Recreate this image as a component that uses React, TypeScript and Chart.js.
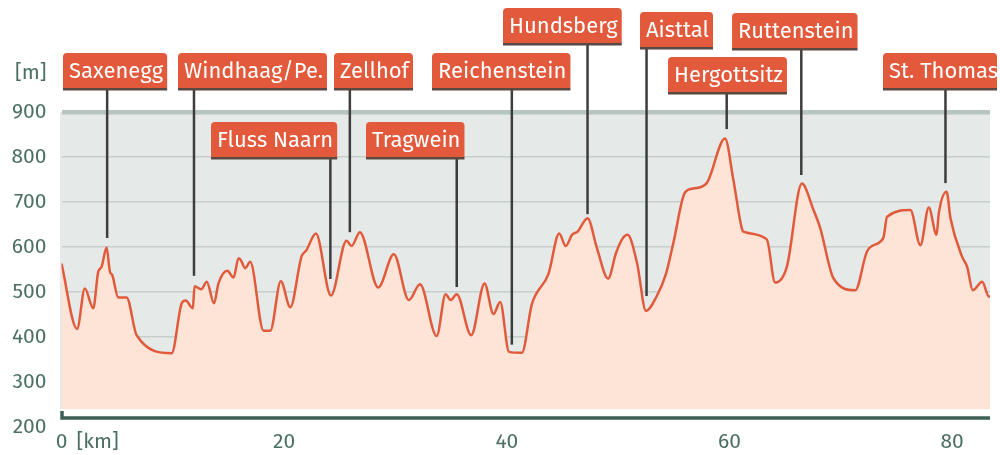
import React, { useEffect, useRef } from "react";
import { Chart, registerables } from "chart.js";

Chart.register(...registerables);

// ---- data ----
const kmValues = [
  0, 1.4, 2.1, 2.85, 3.3, 3.6, 4.05, 4.35, 4.55, 5.1, 5.85, 6.75, 9.9, 10.8, 11.15, 11.8, 11.95,
  12.55, 13.05, 13.7, 14.1, 14.9, 15.45, 15.9, 16.1, 16.5, 16.95, 18.15, 18.75, 19.7, 20.55,
  21.55, 22.0, 22.85, 24.2, 25.6, 26.05, 26.8, 28.45, 29.85, 31.2, 32.2, 33.7, 34.5, 34.95,
  35.5, 36.8, 38.0, 38.8, 39.4, 40.2, 41.35, 42.25, 43.75, 44.7, 45.3, 45.85, 46.35, 47.25,
  48.1, 49.1, 49.8, 50.35, 50.85, 51.7, 52.5, 53.45, 54.3, 54.95, 56.0, 56.75, 57.95, 59.6,
  60.35, 61.1, 61.25, 63.35, 64.1, 65.15, 66.5, 67.55, 68.15, 69.35, 71.3, 72.35, 73.55,
  73.85, 74.15, 76.25, 77.15, 77.9, 78.6, 78.8, 79.5, 79.85, 80.9, 81.35, 81.85, 82.7, 83.3, 83.4,
];
const elevations = [
  563, 418, 508, 464, 545, 556, 599, 545, 538, 488, 488, 404, 364, 475, 481, 464, 513,
  506, 523, 475, 519, 547, 532, 575, 571, 553, 567, 414, 414, 524, 466,
  578, 593, 630, 492, 614, 602, 633, 510, 584, 482, 517, 402, 495, 482,
  495, 404, 519, 451, 478, 367, 365, 473, 541, 630, 602, 627, 634, 664,
  597, 530, 586, 617, 627, 564, 458, 490, 541, 608, 721, 730, 742, 841,
  749, 642, 634, 617, 521, 556, 741, 682, 642, 530, 504, 590, 612,
  623, 667, 682, 604, 688, 627, 675, 723, 664, 578, 556, 504, 523, 490, 490,
];
const xTickValues = [0, 20, 40, 60, 80];
const yTickValues = [200, 300, 400, 500, 600, 700, 800, 900];

const placeNames = [
  "Saxenegg", "Windhaag/Pe.", "Fluss Naarn", "Zellhof", "Tragwein", "Reichenstein",
  "Hundsberg", "Aisttal", "Hergottsitz", "Ruttenstein", "St. Thomas",
];
const placeKm = [4.1, 11.9, 24.15, 25.9, 35.5, 40.45, 47.25, 52.55, 59.75, 66.45, 79.4];
const placeTipElev = [620, 536, 529, 633, 511, 383, 673, 491, 862, 760, 742];

// ---- layout (label box positions, px) ----
const boxLeft = [63, 178, 211, 334, 366, 432, 503, 640, 668, 732, 883];
const boxTop = [53, 53, 122, 53, 122, 53, 8, 12, 57, 13, 53];

const FONT = '"Fira Sans", "Open Sans", sans-serif';
const TICK_COLOR = "#4b6f65";

export default function App() {
  const ref = useRef<HTMLCanvasElement | null>(null);

  useEffect(() => {
    const canvas = ref.current;
    if (!canvas) return;

    const decor = {
      id: "decor",
      beforeDraw(chart: any) {
        const { ctx, chartArea, scales } = chart;
        const y = scales.y;
        ctx.save();
        ctx.fillStyle = "#e5eae9";
        const top = y.getPixelForValue(900);
        const bot = y.getPixelForValue(240);
        ctx.fillRect(chartArea.left - 1.5, top, chartArea.right - chartArea.left + 1.5, bot - top);
        ctx.restore();
      },
      afterDraw(chart: any) {
        const { ctx, chartArea, scales } = chart;
        const x = scales.x;
        const y = scales.y;
        ctx.save();
        // bottom axis line
        const ay = y.getPixelForValue(220);
        ctx.strokeStyle = "#3e5f56";
        ctx.lineWidth = 3.5;
        ctx.beginPath();
        ctx.moveTo(x.getPixelForValue(0) + 0.5, ay - 7);
        ctx.lineTo(x.getPixelForValue(0) + 0.5, ay);
        ctx.lineTo(chartArea.right, ay);
        ctx.stroke();

        // unit labels
        ctx.fillStyle = TICK_COLOR;
        ctx.font = `21px ${FONT}`;
        ctx.textAlign = "right";
        ctx.textBaseline = "middle";
        ctx.fillText("[m]", chartArea.left - 15, 73);
        ctx.textAlign = "left";
        ctx.fillText("[km]", x.getPixelForValue(0) + 15, 442);

        // place labels
        ctx.font = `22px ${FONT}`;
        placeNames.forEach((name, i) => {
          const px = x.getPixelForValue(placeKm[i]);
          const tipY = y.getPixelForValue(placeTipElev[i]);
          const left = boxLeft[i];
          const top = boxTop[i];
          const w = Math.min(ctx.measureText(name).width + 10, 997 - left);
          const h = 35;
          // pointer line
          ctx.strokeStyle = "#3d3d3d";
          ctx.lineWidth = 2.5;
          ctx.beginPath();
          ctx.moveTo(px, top + h + 2);
          ctx.lineTo(px, tipY);
          ctx.stroke();
          // box
          ctx.fillStyle = "#e3593b";
          ctx.beginPath();
          (ctx as any).roundRect(left, top, w, h, [4, 4, 0, 0]);
          ctx.fill();
          ctx.fillStyle = "#5a4842";
          ctx.fillRect(left, top + h, w, 2.5);
          ctx.fillStyle = "#ffffff";
          ctx.textAlign = "left";
          ctx.textBaseline = "middle";
          ctx.fillText(name, left + 6, top + h / 2 + 1.5);
        });
        ctx.restore();
      },
    };

    const chart = new Chart(canvas, {
      type: "line",
      data: {
        datasets: [
          {
            data: kmValues.map((k, i) => ({ x: k, y: elevations[i] })),
            borderColor: "#e05a3b",
            borderWidth: 2.5,
            backgroundColor: "#fde4d7",
            fill: { value: 240 },
            pointRadius: 0,
            cubicInterpolationMode: "monotone",
          } as any,
        ],
      },
      options: {
        animation: false,
        responsive: false,
        layout: { padding: { top: 112, right: 10, left: 0, bottom: 0 } },
        plugins: { legend: { display: false }, tooltip: { enabled: false } },
        scales: {
          x: {
            type: "linear",
            min: 0,
            max: 83.4,
            afterBuildTicks: (s: any) => {
              s.ticks = xTickValues.map((v) => ({ value: v }));
            },
            afterFit: (s: any) => {
              s.height = 28;
            },
            grid: { display: false, drawTicks: false },
            border: { display: false },
            ticks: {
              font: { family: FONT, size: 21 },
              color: TICK_COLOR,
              padding: 3,
              maxRotation: 0,
              autoSkip: false,
              callback: (v: any) => String(v),
            },
          },
          y: {
            type: "linear",
            min: 200,
            max: 900,
            afterBuildTicks: (s: any) => {
              s.ticks = yTickValues.map((v) => ({ value: v }));
            },
            afterFit: (s: any) => {
              s.width = 61.5;
            },
            grid: {
              drawTicks: false,
              color: (c: any) =>
                c.tick && c.tick.value === 200
                  ? "rgba(0,0,0,0)"
                  : c.tick && c.tick.value === 900
                  ? "#b5c5bf"
                  : "#c5cecc",
              lineWidth: (c: any) => (c.tick && c.tick.value === 900 ? 4.5 : 1.5),
            },
            border: { display: false },
            ticks: {
              font: { family: FONT, size: 21 },
              color: TICK_COLOR,
              padding: 15,
              callback: (v: any) => String(v),
            },
          },
        },
      },
      plugins: [decor],
    });

    return () => chart.destroy();
  }, []);

  return (
    <div style={{ position: "absolute", left: 0, top: 0, width: 1000, height: 455, background: "#fff" }}>
      <canvas ref={ref} width={1000} height={455} style={{ display: "block" }} />
    </div>
  );
}
